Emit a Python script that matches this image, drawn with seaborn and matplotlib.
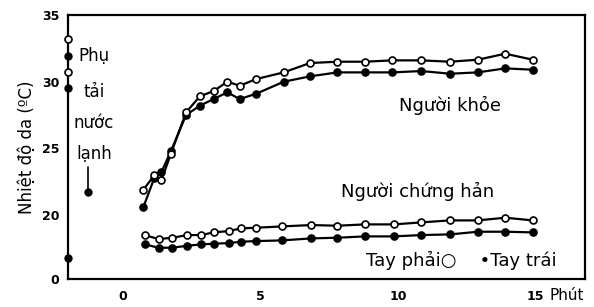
import matplotlib
matplotlib.use("Agg")
import matplotlib.pyplot as plt
import seaborn as sns
import pandas as pd

# ---- data ----
t_healthy = [0.75, 1.15, 1.4, 1.75, 2.3, 2.8, 3.3, 3.8, 4.25, 4.85, 5.85, 6.8, 7.8, 8.8, 9.8, 10.85, 11.9, 12.9, 13.9, 14.9]
healthy_right = [21.9, 23.0, 22.6, 24.6, 27.7, 28.9, 29.3, 30.0, 29.7, 30.2, 30.7, 31.4, 31.5, 31.5, 31.6, 31.6, 31.5, 31.65, 32.1, 31.65]
healthy_left = [20.6, 22.8, 23.2, 24.8, 27.5, 28.2, 28.7, 29.2, 28.7, 29.1, 30.0, 30.4, 30.7, 30.7, 30.7, 30.8, 30.6, 30.7, 31.0, 30.9]

t_sweaty = [0.8, 1.3, 1.8, 2.35, 2.85, 3.3, 3.85, 4.3, 4.85, 5.8, 6.85, 7.8, 8.8, 9.85, 10.85, 11.9, 12.9, 13.9, 14.9]
sweaty_right = [18.5, 18.2, 18.3, 18.5, 18.5, 18.7, 18.8, 19.0, 19.05, 19.15, 19.25, 19.2, 19.3, 19.3, 19.45, 19.6, 19.6, 19.8, 19.6]
sweaty_left = [17.8, 17.55, 17.55, 17.7, 17.8, 17.85, 17.9, 18.0, 18.05, 18.1, 18.25, 18.3, 18.4, 18.4, 18.5, 18.55, 18.75, 18.75, 18.7]

pre_t = -2.0
pre_right = [33.2, 30.75]
pre_left = [31.95, 29.5, 16.8]

load_t = [-1.28, -1.28]
load_y = [23.6, 21.7]

x_ticks = [0, 5, 10, 15]
x_ticklabels = ["0", "5", "10", "15"]
y_ticks = [15.2, 20, 25, 30, 35]
y_ticklabels = ["0", "20", "25", "30", "35"]

# ---- plot ----
sns.set_theme(style="white")
plt.rcParams["font.family"] = ["Liberation Sans Narrow", "DejaVu Sans"]

fig = plt.figure(figsize=(5.94, 3.07), dpi=100)
ax = fig.add_axes([0.114, 0.091, 0.871, 0.860])

df_h = pd.DataFrame({"t": t_healthy, "r": healthy_right, "l": healthy_left})
df_s = pd.DataFrame({"t": t_sweaty, "r": sweaty_right, "l": sweaty_left})

common = dict(color="black", linewidth=1.6, markersize=5.0, markeredgewidth=1.2)
for df in (df_h, df_s):
    sns.lineplot(data=df, x="t", y="l", ax=ax, marker="o", markerfacecolor="black",
                 markeredgecolor="black", zorder=3, **common)
    sns.lineplot(data=df, x="t", y="r", ax=ax, marker="o", markerfacecolor="white",
                 markeredgecolor="black", zorder=4, **common)

ax.plot([pre_t] * len(pre_left), pre_left, "o", color="black", markersize=5.0,
        clip_on=False, zorder=5)
ax.plot([pre_t] * len(pre_right), pre_right, "o", markerfacecolor="white",
        markeredgecolor="black", markersize=5.0, markeredgewidth=1.2, clip_on=False, zorder=5)
ax.plot(load_t, load_y, "-", color="black", linewidth=1.2)
ax.plot(load_t[-1:], load_y[-1:], "o", color="black", markersize=5.0)

ax.set_xlim(-2.0, 16.8)
ax.set_ylim(15.2, 35.0)
ax.set_xticks(x_ticks)
ax.set_xticklabels(x_ticklabels, fontweight="bold", fontsize=9, family=["DejaVu Sans"])
ax.set_yticks(y_ticks)
ax.set_yticklabels(y_ticklabels, fontweight="bold", fontsize=9, family=["DejaVu Sans"])
ax.tick_params(axis="x", direction="in", length=4, width=1.2, pad=8, colors="black")
ax.tick_params(axis="y", direction="out", length=4, width=1.2, pad=2, colors="black")
for s in ax.spines.values():
    s.set_color("black")
    s.set_linewidth(1.6)

ax.set_xlabel("")
ax.set_ylabel("Nhiệt độ da (ºC)", fontsize=12, color="black", labelpad=4)

txt = dict(color="black", fontsize=12, ha="center", va="center")
ax.text(-1.05, 31.9, "Phụ", **txt)
ax.text(-1.05, 29.2, "tải", **txt)
ax.text(-1.05, 26.9, "nước", **txt)
ax.text(-1.05, 24.6, "lạnh", **txt)
ax.text(11.9, 28.2, "Người khỏe", fontsize=13, color="black", ha="center", va="center")
ax.text(10.7, 21.8, "Người chứng hản", fontsize=13, color="black", ha="center", va="center")
ax.text(12.3, 16.6, "Tay phải○    •Tay trái", fontsize=13, color="black", ha="center", va="center")
ax.text(15.5, 14.0, "Phút", color="black", fontsize=11, ha="left", va="center", clip_on=False)

fig.savefig("out.png", dpi=100)
